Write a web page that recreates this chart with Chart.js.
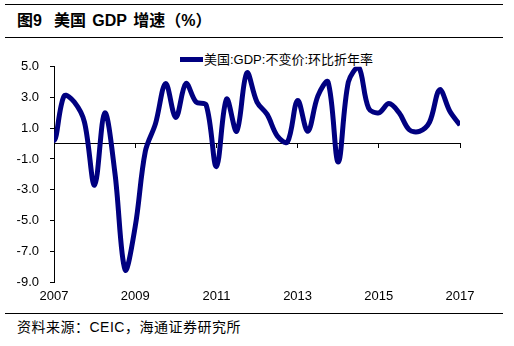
<!DOCTYPE html>
<html lang="zh-CN">
<head>
<meta charset="utf-8">
<title>美国 GDP 增速</title>
<script src="https://cdn.jsdelivr.net/npm/chart.js@4.4.1/dist/chart.umd.min.js"></script>
<style>
  html, body { margin: 0; padding: 0; background: #fff; overflow: hidden; }
  body { width: 514px; height: 346px; position: relative; font-family: "Liberation Sans", "Noto Sans CJK SC", sans-serif; color: #000; }
  .rule { position: absolute; left: 5px; width: 498px; height: 1px; background: #000; }
  #title { position: absolute; left: 17px; top: 11px; font-size: 16px; font-weight: bold; line-height: 20px; white-space: pre; word-spacing: 2px; }
  #legend { position: absolute; left: 180px; top: 52px; height: 16px; font-size: 13px; line-height: 16px; white-space: nowrap; }
  #legend .swatch { display: inline-block; width: 23px; height: 5px; background: #000080; vertical-align: middle; margin-right: 1px; position: relative; top: -1px; }
  #source { position: absolute; left: 17px; top: 318px; font-size: 14px; line-height: 18px; letter-spacing: 0.5px; white-space: nowrap; }
  #chartBox { position: absolute; left: 0; top: 40px; width: 514px; height: 272px; }
</style>
</head>
<body>
<div class="rule" style="top:4px"></div>
<div id="title">图9<span style="margin-left:12px">美国 GDP 增速（%）</span></div>
<div class="rule" style="top:37px"></div>
<div id="legend"><span class="swatch"></span><span id="legendText"></span></div>
<div id="chartBox"><canvas id="gdpChart" width="514" height="272"></canvas></div>
<div class="rule" style="top:313px"></div>
<div id="source">资料来源：CEIC，海通证券研究所</div>

<script>
// --- DATA ---
const seriesName = '美国:GDP:不变价:环比折年率';
const quarters = [
    '2006Q4',
    '2007Q1', '2007Q2', '2007Q3', '2007Q4',
    '2008Q1', '2008Q2', '2008Q3', '2008Q4',
    '2009Q1', '2009Q2', '2009Q3', '2009Q4',
    '2010Q1', '2010Q2', '2010Q3', '2010Q4',
    '2011Q1', '2011Q2', '2011Q3', '2011Q4',
    '2012Q1', '2012Q2', '2012Q3', '2012Q4',
    '2013Q1', '2013Q2', '2013Q3', '2013Q4',
    '2014Q1', '2014Q2', '2014Q3', '2014Q4',
    '2015Q1', '2015Q2', '2015Q3', '2015Q4',
    '2016Q1', '2016Q2', '2016Q3', '2016Q4',
    '2017Q1'
];
const growth = [
    3.0,
    0.2, 3.1, 2.7, 1.4,
    -2.7, 2.0, -1.9, -8.2,
    -5.4, -0.5, 1.3, 3.9,
    1.7, 3.9, 2.7, 2.5,
    -1.5, 2.9, 0.8, 4.6,
    2.7, 1.9, 0.5, 0.1,
    2.8, 0.8, 3.1, 4.0,
    -1.2, 4.0, 5.0, 2.3,
    2.0, 2.6, 2.0, 0.9,
    0.8, 1.4, 3.5, 2.1,
    1.2
];
const yearTicks = [2007, 2009, 2011, 2013, 2015, 2017];
const valueTicks = [5, 3, 1, -1, -3, -5, -7, -9];

// --- HELPERS ---
const quarterToYear = (q) => Number(q.slice(0, 4)) + (Number(q.slice(5)) - 1) / 4;
const fixedTicks = (values) => (scale) => { scale.ticks = values.map(v => ({ value: v })); };
const axisFont = { family: '"Liberation Sans", Arial, sans-serif', size: 13 };

document.getElementById('legendText').textContent = seriesName;

const points = quarters.map((q, i) => ({ x: quarterToYear(q), y: growth[i] }));

new Chart(document.getElementById('gdpChart').getContext('2d'), {
    type: 'line',
    data: {
        datasets: [{
            label: seriesName,
            data: points,
            xAxisID: 'x',
            yAxisID: 'y',
            borderColor: '#000080',
            borderWidth: 5,
            borderCapStyle: 'butt',
            borderJoinStyle: 'round',
            pointRadius: 0,
            pointHoverRadius: 0,
            tension: 0.35,
            fill: false
        }]
    },
    options: {
        responsive: false,
        animation: false,
        devicePixelRatio: 1,
        layout: { padding: { top: 26.7, right: 54, bottom: 0, left: 0 } },
        plugins: { legend: { display: false }, tooltip: { enabled: false } },
        scales: {
            // zero line with small tick marks hanging below it
            x: {
                type: 'linear',
                position: { y: 0 },
                min: 2007,
                max: 2017,
                afterBuildTicks: fixedTicks(yearTicks),
                ticks: { display: false },
                grid: { drawOnChartArea: false, drawTicks: true, tickLength: 4, color: '#000', lineWidth: 1 },
                border: { display: true, color: '#000', width: 1 }
            },
            // year labels along the bottom
            x2: {
                type: 'linear',
                position: 'bottom',
                min: 2007,
                max: 2017,
                afterBuildTicks: fixedTicks(yearTicks),
                afterFit: (scale) => { scale.height = 30; },
                ticks: { font: axisFont, color: '#000', padding: 7, maxRotation: 0, autoSkip: false, callback: v => String(v) },
                grid: { display: false, drawTicks: false },
                border: { display: false }
            },
            y: {
                type: 'linear',
                position: 'left',
                min: -9,
                max: 5,
                afterBuildTicks: fixedTicks(valueTicks),
                afterFit: (scale) => { scale.width = 54; },
                ticks: { font: axisFont, color: '#000', padding: 11, callback: v => v.toFixed(1) },
                grid: { drawOnChartArea: false, drawTicks: true, tickLength: 4, color: '#000', lineWidth: 1 },
                border: { display: true, color: '#000', width: 1 }
            }
        }
    }
});
</script>
</body>
</html>
